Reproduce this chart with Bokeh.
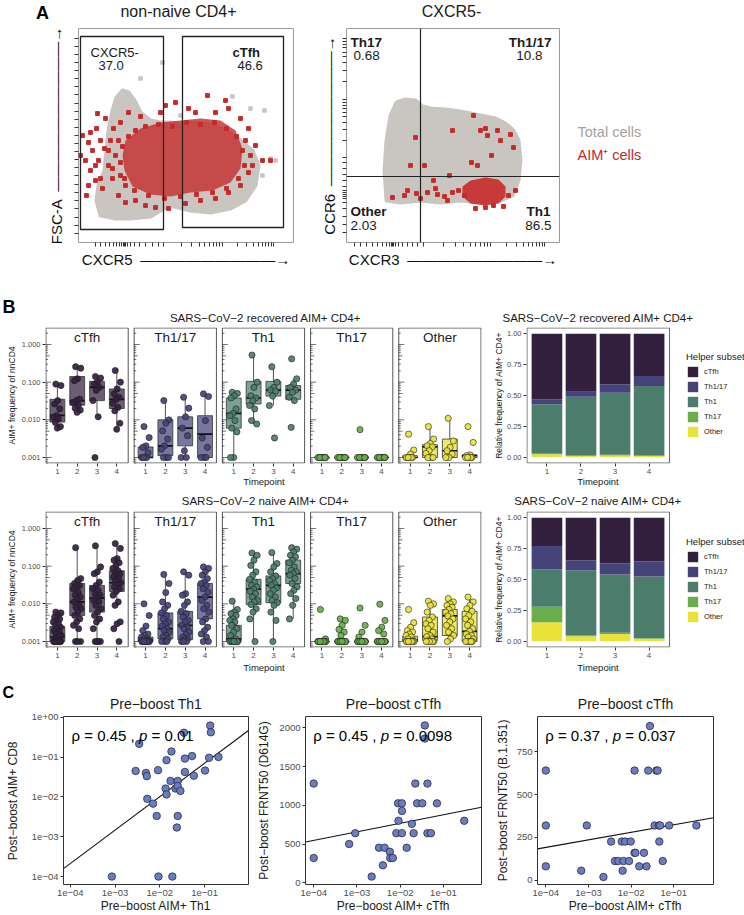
import numpy as np
from math import log10, pi
from bokeh.plotting import figure
from bokeh.models import (Range1d, FixedTicker, CustomJSTickFormatter, Label,
                          Legend, LegendItem, ColumnDataSource, Span)
from bokeh.layouts import column, row
from bokeh.embed import file_html
from bokeh.resources import INLINE
from bokeh.core.properties import value

FONT = "Liberation Sans"

# ---------------- Panel A : flow cytometry (arbitrary channel units) ----------------
a1_total_x = [22, 18, 20, 26, 28, 30, 34, 38, 44, 50, 56, 62, 72, 82, 92, 102, 117, 132, 147, 162, 174, 180, 177, 167, 152, 132, 112, 92, 82, 72, 52, 37]
a1_total_y = [27, 42, 57, 72, 92, 112, 132, 145, 152, 150, 142, 130, 122, 120, 120, 118, 120, 118, 112, 102, 92, 77, 57, 42, 34, 30, 32, 37, 32, 26, 24, 24]
a1_total_sparse_x = [84, 62, 172, 186, 192, 197, 184, 154, 102]
a1_total_sparse_y = [180, 164, 134, 132, 84, 82, 67, 146, 127]
a1_aim_core_x = [47, 62, 82, 102, 122, 142, 157, 164, 162, 152, 134, 112, 92, 72, 54, 46, 44]
a1_aim_core_y = [102, 114, 120, 122, 124, 122, 112, 94, 74, 60, 52, 50, 46, 48, 56, 72, 87]
a1_aim_x = [4, 10, 18, 19, 27, 14, 7, 12, 20, 26, 32, 37, 30, 17, 24, 34, 40, 47, 57, 67, 77, 90, 107, 122, 137,
            150, 162, 170, 172, 177, 184, 192, 170, 162, 150, 137, 129, 110, 97, 82, 62, 42, 50, 87, 117, 147, 167, 174, 2, 8,
            12, 22, 30, 17, 34, 42, 22, 40, 35, 47, 10,
            57, 67, 80, 94, 108, 122, 136, 148, 158, 164, 166, 160, 148, 134, 118, 102, 86, 70, 56, 46, 42, 44, 50]
a1_aim_y = [107, 100, 114, 129, 124, 92, 82, 72, 82, 94, 102, 87, 77, 62, 54, 64, 47, 40, 42, 37, 35, 34, 39, 42, 44,
            50, 57, 70, 87, 97, 82, 82, 114, 124, 134, 130, 147, 134, 140, 130, 126, 120, 130, 137, 130, 142, 102, 77, 87, 47,
            110, 102, 92, 77, 74, 67, 64, 102, 114, 57, 57,
            112, 116, 118, 116, 120, 118, 120, 114, 106, 92, 77, 64, 54, 50, 48, 46, 44, 47, 52, 64, 80, 96, 106]
a1_gate_left = [2, 104]
a1_gate_right = [85, 205]
a1_gate_bottom = [13, 15]
a1_gate_top = [206, 206]
a1_gate_names = ["CXCR5-", "cTfh"]
a1_gate_pct = ["37.0", "46.6"]

a2_total_x = [40, 38, 40, 44, 50, 59, 69, 76, 84, 99, 114, 134, 149, 159, 167, 172, 174, 172, 166, 154, 134, 114, 94, 74, 54]
a2_total_y = [42, 72, 102, 127, 140, 143, 142, 136, 134, 133, 131, 127, 124, 119, 112, 102, 82, 62, 47, 42, 40, 42, 40, 42, 40]
a2_aim_core_x = [116, 124, 139, 152, 159, 159, 152, 139, 124, 116]
a2_aim_core_y = [56, 62, 65, 63, 56, 46, 39, 37, 39, 46]
a2_aim_x = [69, 127, 106, 134, 139, 141, 151, 154, 164, 167, 145, 125, 131, 64, 78, 103, 87, 89, 61, 70, 81, 91, 98, 106,
            112, 118, 46, 58, 74, 101, 162, 169, 129, 139, 147, 157]
a2_aim_y = [105, 127, 112, 112, 114, 107, 112, 102, 108, 95, 87, 80, 77, 77, 77, 67, 62, 54, 52, 49, 50, 48, 46, 50,
            52, 47, 45, 47, 44, 42, 47, 52, 34, 35, 37, 36]
a2_quad_x = 74
a2_quad_y = 66
a2_quad_names = ["Th17", "Th1/17", "Other", "Th1"]
a2_quad_pct = ["0.68", "10.8", "2.03", "86.5"]

# ---------------- Panel B : AIM+ frequency (log10 of fraction of nnCD4) ----------------
timepoints = [1, 2, 3, 4]
subsets = ["cTfh", "Th1/17", "Th1", "Th17", "Other"]
subset_colors = ["#33203f", "#45437a", "#4c7d6c", "#6aae4b", "#e8e23a"]

rec_cTfh = [[-1.05, -1.09, -1.49, -1.58, -1.71, -1.89, -1.93, -1.98, -2.07, -2.18, -2.22],
            [-0.59, -0.63, -0.91, -0.96, -1.45, -1.49, -1.54, -1.62, -1.69, -1.74, -1.80],
            [-0.85, -0.89, -1.0, -1.05, -1.14, -1.22, -1.49, -1.92, -3.0],
            [-0.69, -1.0, -1.18, -1.31, -1.40, -1.46, -1.56, -1.67, -1.76, -2.09, -2.25]]
rec_Th1_17 = [[-2.18, -2.47, -2.69, -2.73, -2.87, -3, -3, -3, -3],
              [-1.49, -2.0, -2.09, -2.29, -2.51, -2.69, -2.78, -3, -3, -3],
              [-1.40, -1.69, -1.92, -2.22, -2.42, -2.82, -3, -3],
              [-1.31, -1.38, -2.02, -2.48, -2.73, -3, -3, -3]]
rec_Th1 = [[-1.27, -1.30, -1.36, -1.42, -1.71, -1.83, -1.89, -2.02, -2.22, -2.32, -3, -3],
           [-0.28, -1.0, -1.14, -1.36, -1.42, -1.49, -1.62, -1.71, -2.02, -2.11],
           [-0.59, -1.0, -1.14, -1.21, -1.24, -1.37, -1.62, -2.48],
           [-0.38, -0.91, -1.05, -1.14, -1.21, -1.27, -1.40, -1.49, -2.20]]
rec_Th17 = [[-3] * 10, [-3] * 10, [-2.26] + [-3] * 9, [-3] * 10]
rec_Other = [[-2.38, -2.80, -2.91, -3, -3, -3, -3, -3, -3],
             [-2.18, -2.51, -2.63, -2.69, -2.72, -2.82, -2.89, -3, -3, -3],
             [-1.96, -2.56, -2.73, -2.82, -2.91, -3, -3],
             [-2.18, -2.60, -2.93, -2.95, -3, -3, -3, -3, -3]]
# box stats per timepoint: [q1, median, q3, lower whisker, upper whisker] (log10)
rec_box_cTfh = [[-2.06, -1.88, -1.455, -2.22, -1.05], [-1.61, -1.49, -0.85, -1.80, -0.59],
                [-1.49, -1.14, -0.98, -1.92, -0.85], [-1.70, -1.455, -1.18, -2.25, -0.69]]
rec_box_Th1_17 = [[-3, -3, -2.72, -3, -2.72], [-2.95, -2.69, -2.0, -3, -1.49],
                  [-2.69, -2.22, -1.92, -3, -1.40], [-3, -2.38, -1.89, -3, -1.31]]
rec_box_Th1 = [[-2.22, -1.83, -1.42, -3, -1.27], [-1.58, -1.42, -0.98, -2.11, -0.28],
               [-1.37, -1.21, -0.98, -1.62, -0.59], [-1.455, -1.21, -1.09, -1.53, -0.91]]
rec_box_Th17 = [[-3, -3, -3, -3, -3]] * 4
rec_box_Other = [[-3, -3, -2.95, -3, -2.95], [-3, -2.72, -2.66, -3, -2.18],
                 [-3, -2.82, -2.51, -3, -1.96], [-3, -2.95, -2.93, -3, -2.93]]

nai_cTfh = [[-2.22, -2.24, -2.29, -2.35, -2.40, -2.44, -2.48, -2.53, -2.57, -2.62, -2.66, -2.71, -2.75, -2.80, -2.84, -2.88, -2.93, -2.97] + [-3] * 8,
            [-0.51, -1.33, -1.38, -1.46, -1.51, -1.55, -1.60, -1.69, -1.77, -1.82, -1.86, -1.95, -2.04, -2.09, -2.13, -2.22, -2.31, -2.40, -2.48, -2.57, -2.66, -3, -3, -3],
            [-0.46, -1.02, -1.15, -1.20, -1.42, -1.51, -1.60, -1.64, -1.73, -1.77, -1.85, -1.91, -1.95, -2.04, -2.13, -2.22, -2.31, -2.40, -2.48, -2.66, -3, -3, -3, -3],
            [-0.40, -0.53, -0.80, -0.84, -0.91, -0.98, -1.06, -1.12, -1.15, -1.20, -1.24, -1.29, -1.33, -1.38, -1.44, -1.49, -1.55, -1.60, -1.67, -1.77, -1.95, -2.04, -2.48, -2.53, -2.66, -3]]
nai_Th1_17 = [[-2.0, -2.31, -2.59, -2.71, -2.80, -2.84, -2.88, -2.93, -2.95, -2.97] + [-3] * 12,
              [-1.22, -1.46, -1.70, -1.95, -2.04, -2.13, -2.24, -2.31, -2.40, -2.48, -2.53, -2.59, -2.66, -2.71, -2.75, -2.84, -2.88, -2.93, -3, -3, -3],
              [-1.15, -1.24, -1.73, -1.77, -1.95, -2.04, -2.20, -2.26, -2.35, -2.44, -2.48, -2.57, -2.62, -2.66, -2.75, -2.82, -2.88, -2.93, -2.95, -3, -3, -3],
              [-1.02, -1.06, -1.15, -1.24, -1.33, -1.42, -1.46, -1.51, -1.60, -1.69, -1.82, -1.91, -2.04, -2.13, -2.22, -2.40, -2.48, -2.62, -2.71, -2.80, -2.88, -3, -3]]
nai_Th1 = [[-1.93, -2.15, -2.22, -2.26, -2.31, -2.40, -2.44, -2.48, -2.57, -2.66, -2.75, -2.84, -2.93, -2.97] + [-3] * 10,
           [-0.65, -0.71, -0.84, -0.98, -1.15, -1.24, -1.35, -1.42, -1.51, -1.55, -1.61, -1.67, -1.73, -1.82, -1.91, -1.95, -2.02, -2.13, -2.22, -2.40, -3],
           [-0.64, -0.93, -1.02, -1.15, -1.26, -1.33, -1.38, -1.46, -1.51, -1.58, -1.64, -1.73, -1.82, -1.91, -1.97, -2.04, -2.22, -2.44, -3],
           [-0.51, -0.55, -0.62, -0.71, -0.75, -0.84, -0.91, -1.02, -1.11, -1.15, -1.20, -1.24, -1.33, -1.46, -1.55, -1.64, -1.73, -1.86, -2.04, -2.40]]
nai_Th17 = [[-2.15, -2.93] + [-3] * 20,
            [-2.40, -2.44, -2.57, -2.68, -2.75, -2.84] + [-3] * 18,
            [-2.11, -2.57, -2.75, -2.88] + [-3] * 20,
            [-2.01, -2.44, -2.62, -2.71, -2.80] + [-3] * 19]
nai_Other = [[-2.15, -2.50, -2.62, -2.71, -2.75, -2.80, -2.84, -2.88, -2.93, -2.97] + [-3] * 12,
             [-1.93, -2.0, -2.04, -2.22, -2.35, -2.44, -2.53, -2.57, -2.66, -2.75, -2.84, -2.87, -2.93, -2.97] + [-3] * 6,
             [-1.86, -1.95, -2.0, -2.04, -2.09, -2.15, -2.22, -2.26, -2.32, -2.40, -2.48, -2.57, -2.66, -2.75, -2.84, -2.93, -3],
             [-1.82, -1.95, -2.04, -2.13, -2.20, -2.31, -2.40, -2.48, -2.57, -2.66, -2.73, -2.80, -2.84, -2.88, -2.93] + [-3] * 6]
nai_box_cTfh = [[-3, -2.88, -2.60, -3, -2.22], [-2.31, -1.95, -1.46, -3, -0.51],
                [-2.22, -1.85, -1.51, -3, -0.46], [-1.67, -1.44, -1.12, -2.04, -0.40]]
nai_box_Th1_17 = [[-3, -2.97, -2.88, -3, -2.80], [-2.93, -2.66, -2.24, -3, -1.22],
                  [-2.95, -2.57, -2.20, -3, -1.15], [-2.40, -1.82, -1.46, -3, -1.02]]
nai_box_Th1 = [[-3, -2.93, -2.57, -3, -1.93], [-2.02, -1.61, -1.35, -3, -0.65],
               [-1.97, -1.51, -1.26, -3, -0.64], [-1.46, -1.20, -0.84, -2.40, -0.51]]
nai_box_Th17 = [[-3, -3, -3, -3, -3]] * 4
nai_box_Other = [[-3, -2.97, -2.86, -3, -2.80], [-2.97, -2.87, -2.35, -3, -1.93],
                 [-2.84, -2.32, -2.15, -3, -1.86], [-3, -2.73, -2.20, -3, -1.82]]

# relative frequency of AIM+ CD4+ per timepoint
rec_frac_cTfh = [0.53, 0.47, 0.41, 0.342]
rec_frac_Th1_17 = [0.04, 0.041, 0.068, 0.082]
rec_frac_Th1 = [0.395, 0.474, 0.502, 0.561]
rec_frac_Th17 = [0.01, 0.005, 0.005, 0.005]
rec_frac_Other = [0.025, 0.01, 0.015, 0.01]
nai_frac_cTfh = [0.23, 0.345, 0.37, 0.355]
nai_frac_Th1_17 = [0.19, 0.08, 0.09, 0.12]
nai_frac_Th1 = [0.30, 0.525, 0.47, 0.50]
nai_frac_Th17 = [0.125, 0.01, 0.01, 0.005]
nai_frac_Other = [0.155, 0.04, 0.06, 0.02]

# ---------------- Panel C : correlations ----------------
c1_pre_th1_log = [-3.07, -2.03, -1.72, -0.875, -0.86, -2.46, -1.46, -1.74, -1.85, -2.54, -2.31, -2.04, -1.44, -1.28, -0.69, -0.9,
                  -0.99, -1.44, -1.24, -2.29, -1.76, -1.6, -1.87, -1.65, -1.6, -1.54, -1.85, -2.28, -2.15, -2.07, -1.6, -1.62]
c1_post_cd8_log = [-4.0, -4.0, -4.0, -0.21, -0.38, -0.67, -0.39, -0.86, -1.08, -1.35, -1.4, -1.33, -1.04, -0.975, -1.0, -1.02,
                   -1.34, -1.375, -1.47, -1.48, -1.6, -1.6, -1.79, -1.79, -1.73, -1.85, -1.94, -2.05, -2.17, -2.48, -2.48, -2.77]
c1_fit = [-0.316, 0.84]   # log10(y) = a + b*log10(x)
c2_pre_ctfh_log = [-4.0, -4.0, -3.18, -3.04, -2.49, -2.36, -2.66, -2.40, -2.24, -2.23, -2.17, -2.09, -2.04, -2.05, -1.96,
                   -1.96, -1.96, -1.85, -1.73, -1.69, -1.65, -1.61, -1.49, -1.43, -1.43, -1.37, -1.37, -1.29, -1.15, -0.52]
c2_frnt50_d614g = [1280, 320, 500, 640, 452, 452, 80, 226, 400, 320, 320, 640, 800, 1025, 1025,
                   927, 640, 452, 760, 640, 1280, 1025, 1025, 2030, 1860, 1280, 640, 640, 1025, 800]
c2_fit = [987, 110]       # y = a + b*log10(x)
c3_pre_ctfh_log = [-4.0, -4.0, -4.0, -3.17, -3.04, -2.65, -2.47, -2.38, -2.30, -2.22, -2.20, -2.18, -2.14, -2.05, -2.01, -1.92,
                   -1.92, -1.90, -1.81, -1.70, -1.64, -1.60, -1.56, -1.45, -1.41, -1.38, -1.35, -1.32, -1.34, -1.26, -1.11, -0.47]
c3_frnt50_b1351 = [641, 320, 81, 56, 320, 19, 226, 112, 112, 226, 56, 112, 226, 112, 226, 641,
                   160, 160, 81, 160, 81, 641, 901, 320, 641, 641, 320, 320, 226, 112, 320, 320]
c3_fit = [368, 44]


# ---------------- helpers ----------------
class Geo:
    def __init__(self, box, frame, xr, yr, xlog=False, ylog=False):
        self.box, self.frame = box, frame
        self.xr, self.yr, self.xlog, self.ylog = xr, yr, xlog, ylog

    def x(self, px):
        f0, f1 = self.frame[0], self.frame[2]
        t = (px - f0) / (f1 - f0)
        a, b = self.xr
        if self.xlog:
            return 10 ** (log10(a) + t * (log10(b) - log10(a)))
        return a + t * (b - a)

    def y(self, py):
        f0, f1 = self.frame[1], self.frame[3]
        t = (f1 - py) / (f1 - f0)
        a, b = self.yr
        if self.ylog:
            return 10 ** (log10(a) + t * (log10(b) - log10(a)))
        return a + t * (b - a)

    def fig(self):
        bx0, by0, bx1, by1 = self.box
        fx0, fy0, fx1, fy1 = self.frame
        p = figure(width=bx1 - bx0, height=by1 - by0,
                   x_range=Range1d(*self.xr), y_range=Range1d(*self.yr),
                   x_axis_type="log" if self.xlog else "linear",
                   y_axis_type="log" if self.ylog else "linear",
                   min_border_left=fx0 - bx0, min_border_right=bx1 - fx1,
                   min_border_top=fy0 - by0, min_border_bottom=by1 - fy1,
                   output_backend="svg", toolbar_location=None)
        p.xgrid.visible = False
        p.ygrid.visible = False
        p.background_fill_color = "white"
        p.border_fill_color = "white"
        return p

    def label(self, p, px, py, text, size, color="#1a1a1a", style="normal", align="center",
              baseline="middle", angle=0, xo=0, panel="center"):
        p.add_layout(Label(x=self.x(px), y=self.y(py), text=text, text_font=FONT,
                           text_font_size=f"{size}px", text_color=color, text_font_style=style,
                           text_align=align, text_baseline=baseline, angle=angle, x_offset=xo), panel)


def log_minor(a, b):
    return [a + log10(k) * (b - a) for k in range(2, 10)]


def lin_minor(a, b, n=4):
    return [a + (b - a) * i / (n + 1) for i in range(1, n + 1)]


def style_axis(ax, size, color="#4d4d4d"):
    ax.major_label_text_font = FONT
    ax.major_label_text_font_size = f"{size}px"
    ax.major_label_text_color = color
    ax.axis_line_color = None
    ax.major_tick_line_color = "#333333"
    ax.major_tick_out = 3
    ax.major_tick_in = 0
    ax.minor_tick_line_color = None
    ax.major_label_standoff = 2
    ax.axis_label_text_font = FONT
    ax.axis_label_text_font_style = "normal"
    ax.axis_label_text_color = "#1a1a1a"


def flow_axis(ax, ticks, label, standoff):
    # tick marks only (no tick labels), as on a cytometry plot
    ax.ticker = FixedTicker(ticks=[], minor_ticks=ticks)
    ax.major_label_standoff = 0
    ax.axis_line_color = None
    ax.major_tick_out = 5
    ax.major_tick_in = 0
    ax.minor_tick_out = 4
    ax.minor_tick_in = 0
    ax.minor_tick_line_color = "#333333"
    ax.axis_label = label
    ax.axis_label_text_font = FONT
    ax.axis_label_text_font_size = "15px"
    ax.axis_label_text_font_style = "normal"
    ax.axis_label_text_color = "#111111"
    ax.axis_label_standoff = standoff


def arrow_text(name, n):
    return name + "\u2002" + "\u2014" * n + "\u2192"


GREY = "#c9c6c1"
RED = "#c62a2a"

# ---------------- Panel A left ----------------
gA1 = Geo((0, 0, 310, 270), (78, 28, 293, 242), (0, 215), (0, 214))
pA1 = gA1.fig()
pA1.outline_line_color = "#9a9a9a"
flow_axis(pA1.xaxis[0], [47, 85, 144, 195] + [17, 22, 27, 31, 35, 38, 41, 43, 45, 46, 49, 52, 56, 61, 67, 74, 80]
          + log_minor(85, 144) + log_minor(144, 195), arrow_text("CXCR5", 9), 4)
flow_axis(pA1.yaxis[0], [42, 83, 123, 164, 204] + [9, 17, 25, 34] + lin_minor(42, 83) + lin_minor(83, 123)
          + lin_minor(123, 164) + lin_minor(164, 204), arrow_text("FSC-A", 10), 10)
pA1.patch(a1_total_x, a1_total_y, fill_color=GREY, line_color=GREY, line_width=4, line_join="round")
pA1.scatter(a1_total_sparse_x, a1_total_sparse_y, marker="square", size=3.5, color=GREY)
pA1.patch(a1_aim_core_x, a1_aim_core_y, fill_color=RED, fill_alpha=0.8, line_color=None)
pA1.scatter(a1_aim_x, a1_aim_y, marker="square", size=3.8, color=RED)
pA1.quad(left=a1_gate_left, right=a1_gate_right, bottom=a1_gate_bottom, top=a1_gate_top,
         fill_color=None, line_color="#222222", line_width=1.3)
gA1.label(pA1, 90, 52, a1_gate_names[0], 13, align="left")
gA1.label(pA1, 98, 65, a1_gate_pct[0], 13, align="left")
gA1.label(pA1, 232, 52, a1_gate_names[1], 13, style="bold", align="left")
gA1.label(pA1, 237, 65, a1_gate_pct[1], 13, align="left")
gA1.label(pA1, 42, 12, "A", 18, color="black", style="bold", panel="left")
gA1.label(pA1, 178, 11, "non-naive CD4+", 16, panel="above")

# ---------------- Panel A right ----------------
gA2 = Geo((310, 0, 744, 270), (346, 28, 559, 242), (0, 213), (0, 214))
pA2 = gA2.fig()
pA2.outline_line_color = "#9a9a9a"
flow_axis(pA2.xaxis[0], [77, 144, 198] + [8, 14, 20, 26, 31, 36, 40, 43, 45, 46, 47, 49, 52, 56, 61, 66, 71]
          + log_minor(77, 144) + log_minor(144, 198), arrow_text("CXCR3", 9), 4)
flow_axis(pA2.yaxis[0], [85, 143, 204] + [10, 18, 26, 34, 40, 44, 46, 48, 50, 52, 56, 62, 68, 74, 80]
          + log_minor(85, 143) + log_minor(143, 204), arrow_text("CCR6", 9), 5)
pA2.patch(a2_total_x, a2_total_y, fill_color=GREY, line_color=GREY, line_width=4, line_join="round")
pA2.patch(a2_aim_core_x, a2_aim_core_y, fill_color=RED, fill_alpha=0.9, line_color=None)
pA2.scatter(a2_aim_x, a2_aim_y, marker="square", size=3.8, color=RED)
pA2.add_layout(Span(location=a2_quad_x, dimension="height", line_color="#222222", line_width=1.2))
pA2.add_layout(Span(location=a2_quad_y, dimension="width", line_color="#222222", line_width=1.2))
gA2.label(pA2, 350, 42, a2_quad_names[0], 13.5, style="bold", align="left")
gA2.label(pA2, 353, 55, a2_quad_pct[0], 13.5, align="left")
gA2.label(pA2, 551, 42, a2_quad_names[1], 13.5, style="bold", align="right")
gA2.label(pA2, 542, 55, a2_quad_pct[1], 13.5, align="right")
gA2.label(pA2, 350, 211, a2_quad_names[2], 13.5, style="bold", align="left")
gA2.label(pA2, 350, 225, a2_quad_pct[2], 13.5, align="left")
gA2.label(pA2, 550, 211, a2_quad_names[3], 13.5, style="bold", align="right")
gA2.label(pA2, 551, 225, a2_quad_pct[3], 13.5, align="right")
gA2.label(pA2, 451, 11, "CXCR5-", 16, panel="above")
gA2.label(pA2, 577, 131, "Total cells", 14.5, color="#a5a29d", align="left", panel="right")
gA2.label(pA2, 577, 154, "AIM\u207a cells", 14.5, color="#c1272d", align="left", panel="right")

# ---------------- Panel B ----------------
FACET_STEP = 4.452
B_YR = (10 ** -3.159, 10 ** 0.451)
B_XR = (0.4, 0.4 + 5 * 4.2 + 4 * 0.252)
PX_PER_DEC = 37.67


def facet_panel(g, pts_all, box_all, title, title_py, tp_py, tp_panel, letter_py=None):
    p = g.fig()
    p.outline_line_color = None
    ticks = []
    lo_log, hi_log = log10(B_YR[0]), log10(B_YR[1])
    for k, name in enumerate(subsets):
        off = k * FACET_STEP
        col = subset_colors[k]
        ticks += [off + t for t in timepoints]
        p.quad(left=[off + 0.4 + 0.025], right=[off + 4.6 - 0.025],
               bottom=[10 ** (lo_log + 0.013)], top=[10 ** (hi_log - 0.013)],
               fill_color=None, line_color="#555555", line_width=1)
        p.text(x=[off + 2.5], y=[10 ** (hi_log - 9.5 / PX_PER_DEC)], text=[name],
               text_font=value(FONT), text_font_size="13.5px", text_align="center",
               text_baseline="middle", text_color="#1a1a1a")
        ly, lx1 = [], []
        for d in range(-4, 1):
            for m in range(1, 10):
                v = m * 10 ** d
                if v < B_YR[0] or v > B_YR[1]:
                    continue
                ly.append(v)
                lx1.append(off + 0.4 + (0.30 if m == 1 else (0.21 if m == 5 else 0.13)))
        p.segment(x0=[off + 0.4] * len(ly), x1=lx1, y0=ly, y1=ly, line_color="#333333", line_width=0.7)
        for t, vals, bx in zip(timepoints, pts_all[k], box_all[k]):
            q1, med, q3, wlo, whi = [10 ** v for v in bx]
            xc = off + t
            p.segment(x0=[xc, xc], x1=[xc, xc], y0=[q3, wlo], y1=[whi, q1], line_color="#222222", line_width=0.8)
            p.quad(left=[xc - 0.375], right=[xc + 0.375], bottom=[q1], top=[q3],
                   fill_color=col, fill_alpha=0.72, line_color="#333333", line_width=0.8)
            p.segment(x0=[xc - 0.375], x1=[xc + 0.375], y0=[med], y1=[med], line_color="#111111", line_width=1.7)
        for t, vals in zip(timepoints, pts_all[k]):
            n = len(vals)
            jit = ((np.arange(n) * 0.618034 + 0.31) % 1.0 - 0.5) * 0.42
            p.scatter(x=off + t + jit, y=10 ** np.array(vals, dtype=float), size=6.2,
                      fill_color=col, fill_alpha=0.92, line_color="#1e1e1e", line_width=0.6)
    xa = p.xaxis[0]
    style_axis(xa, 8)
    xa.ticker = FixedTicker(ticks=ticks)
    xa.formatter = CustomJSTickFormatter(
        code="return String(Math.round(tick - 4.452*Math.floor((tick-0.4)/4.452)));")
    ya = p.yaxis[0]
    style_axis(ya, 7.5)
    ya.ticker = FixedTicker(ticks=[0.001, 0.01, 0.1, 1.0])
    ya.formatter = CustomJSTickFormatter(code="return tick.toFixed(3);")
    ya.axis_label = "AIM+ frequency of nnCD4"
    ya.axis_label_text_font_size = "8.5px"
    ya.axis_label_standoff = 2
    if letter_py is not None:
        g.label(p, 2, letter_py, "B", 18, color="black", style="bold", align="left", panel="above")
    g.label(p, 265, title_py, title, 11.5, panel="above")
    g.label(p, 263.5, tp_py, "Timepoint", 9.5, panel=tp_panel)
    return p


BAR_LEFT_PX, BAR_RIGHT_PX = 523, 668


def stack_panel(g, fracs, title, title_py, tp_py, tp_panel, leg_loc):
    p = g.fig()
    p.outline_line_color = None
    # visible plotting box (the frame also hosts the legend on its right)
    p.quad(left=[0.4 + 0.015], right=[4.6], bottom=[-0.05 + 0.004], top=[1.05 - 0.004],
           fill_color=None, line_color="#666666", line_width=1)
    src = ColumnDataSource(dict(t=timepoints, Other=fracs[4], Th17=fracs[3], Th1=fracs[2],
                                Th1_17=fracs[1], cTfh=fracs[0]))
    keys = ["Other", "Th17", "Th1", "Th1_17", "cTfh"]
    cols = [subset_colors[4], subset_colors[3], subset_colors[2], subset_colors[1], subset_colors[0]]
    rs = p.vbar_stack(keys, x="t", width=0.9, fill_color=cols, line_color=None, source=src)
    xa = p.xaxis[0]
    style_axis(xa, 8)
    xa.ticker = FixedTicker(ticks=timepoints)
    ya = p.yaxis[0]
    style_axis(ya, 7.5)
    ya.ticker = FixedTicker(ticks=[0, 0.25, 0.5, 0.75, 1.0])
    ya.formatter = CustomJSTickFormatter(code="return tick.toFixed(2);")
    ya.axis_label = "Relative frequency of AIM+ CD4+"
    ya.axis_label_text_font_size = "8.5px"
    ya.axis_label_standoff = 0
    items = [LegendItem(label=subsets[i], renderers=[rs[4 - i]]) for i in range(5)]
    leg = Legend(items=items, location=leg_loc, title="Helper subset",
                 title_text_font=FONT, title_text_font_size="9.5px", title_text_font_style="normal",
                 title_text_color="#1a1a1a", title_standoff=3,
                 label_text_font=FONT, label_text_font_size="7.5px", label_text_color="#1a1a1a",
                 glyph_width=13, glyph_height=13, label_height=13, label_standoff=5, spacing=2,
                 padding=0, margin=0, border_line_alpha=0, background_fill_alpha=0)
    p.add_layout(leg)
    g.label(p, 595.5, title_py, title, 11.5, panel="above")
    g.label(p, 595.5, tp_py, "Timepoint", 9.5, panel=tp_panel)
    return p


rec_pts = [rec_cTfh, rec_Th1_17, rec_Th1, rec_Th17, rec_Other]
rec_box = [rec_box_cTfh, rec_box_Th1_17, rec_box_Th1, rec_box_Th17, rec_box_Other]
nai_pts = [nai_cTfh, nai_Th1_17, nai_Th1, nai_Th17, nai_Other]
nai_box = [nai_box_cTfh, nai_box_Th1_17, nai_box_Th1, nai_box_Th17, nai_box_Other]
rec_frac = [rec_frac_cTfh, rec_frac_Th1_17, rec_frac_Th1, rec_frac_Th17, rec_frac_Other]
nai_frac = [nai_frac_cTfh, nai_frac_Th1_17, nai_frac_Th1, nai_frac_Th17, nai_frac_Other]

S_XR = (0.4, 0.4 + 4.2 * (744 - BAR_LEFT_PX) / (BAR_RIGHT_PX - BAR_LEFT_PX))

gB1 = Geo((0, 270, 490, 488), (45, 327, 481, 463), B_XR, B_YR, ylog=True)
pB1 = facet_panel(gB1, rec_pts, rec_box, "SARS\u2212CoV\u22122 recovered AIM+ CD4+", 317, 481, "above", letter_py=306)
gB1s = Geo((490, 270, 744, 488), (523, 327, 744, 463), S_XR, (-0.05, 1.05))
pB1s = stack_panel(gB1s, rec_frac, "SARS\u2212CoV\u22122 recovered AIM+ CD4+", 317, 481, "above", (160, 25))

gB2 = Geo((0, 488, 490, 680), (45, 511, 481, 647), B_XR, B_YR, ylog=True)
pB2 = facet_panel(gB2, nai_pts, nai_box, "SARS\u2212CoV\u22122 naive AIM+ CD4+", 500, 667, "below")
gB2s = Geo((490, 488, 744, 680), (523, 511, 744, 647), S_XR, (-0.05, 1.05))
pB2s = stack_panel(gB2s, nai_frac, "SARS\u2212CoV\u22122 naive AIM+ CD4+", 500, 667, "below", (160, 24))

# ---------------- Panel C ----------------
LOGFMT = CustomJSTickFormatter(code="""
const e = Math.round(Math.log10(tick));
const s = e < 0 ? "\\u2212" : "+";
return "1e" + s + String(Math.abs(e)).padStart(2, "0");
""")


def corr_panel(g, xlog_vals, yvals, fit, title, xlab, ylab, ylab_standoff, rho, pv, yticks, letter=False):
    p = g.fig()
    p.outline_line_color = "#333333"
    p.outline_line_width = 1
    xs = 10 ** np.array(xlog_vals)
    ys = 10 ** np.array(yvals) if g.ylog else np.array(yvals, dtype=float)
    lx = np.array([log10(g.xr[0]), log10(g.xr[1])])
    ly = fit[0] + fit[1] * lx
    p.line(10 ** lx, 10 ** ly if g.ylog else ly, line_color="#111111", line_width=1.1)
    p.scatter(xs, ys, size=7.5, fill_color="#6b7cc0", line_color="#1e1e30", line_width=0.7)
    xa = p.xaxis[0]
    style_axis(xa, 9.5)
    xa.ticker = FixedTicker(ticks=[1e-4, 1e-3, 1e-2, 1e-1])
    xa.formatter = LOGFMT
    xa.axis_label = xlab
    xa.axis_label_text_font_size = "12px"
    xa.axis_label_standoff = 0
    ya = p.yaxis[0]
    style_axis(ya, 9.5)
    ya.ticker = FixedTicker(ticks=yticks)
    if g.ylog:
        ya.formatter = LOGFMT
    ya.axis_label = ylab
    ya.axis_label_text_font_size = "12px"
    ya.axis_label_standoff = ylab_standoff
    cx = (g.frame[0] + g.frame[2]) / 2
    g.label(p, cx, 703, title, 14, panel="above")
    tx = g.frame[0] + 8
    ty = g.frame[1] + 19
    fs = 15
    g.label(p, tx, ty, f"\u03c1 = {rho} ,", fs, color="black", align="left")
    g.label(p, tx, ty, "p", fs, color="black", style="italic", align="left", xo=fs * 4.5)
    g.label(p, tx, ty, f"= {pv}", fs, color="black", align="left", xo=fs * (4.5 + 0.556 + 0.278))
    if letter:
        g.label(p, 2, 692, "C", 16, color="black", style="bold", align="left", panel="above")
    return p


gC1 = Geo((0, 680, 254, 915), (63, 716, 248, 885), (10 ** -4.15, 10 ** -0.02), (10 ** -4.2, 10 ** 0.017), xlog=True, ylog=True)
pC1 = corr_panel(gC1, c1_pre_th1_log, c1_post_cd8_log, c1_fit, "Pre\u2212boost Th1", "Pre\u2212boost AIM+ Th1",
                 "Post\u2212boost AIM+ CD8", 9, "0.45", "0.01", [1e-4, 1e-3, 1e-2, 1e-1, 1.0], letter=True)
gC2 = Geo((254, 680, 492, 915), (299, 716, 481, 885), (10 ** -4.19, 10 ** -0.12), (-22, 2145), xlog=True)
pC2 = corr_panel(gC2, c2_pre_ctfh_log, c2_frnt50_d614g, c2_fit, "Pre\u2212boost cTfh", "Pre\u2212boost AIM+ cTfh",
                 "Post\u2212boost FRNT50 (D614G)", 5, "0.45", "0.0098", [0, 500, 1000, 1500, 2000])
gC3 = Geo((492, 680, 744, 915), (531, 716, 713, 885), (10 ** -4.195, 10 ** -0.07), (-25, 957), xlog=True)
pC3 = corr_panel(gC3, c3_pre_ctfh_log, c3_frnt50_b1351, c3_fit, "Pre\u2212boost cTfh", "Pre\u2212boost AIM+ cTfh",
                 "Post\u2212boost FRNT50 (B.1.351)", 4, "0.37", "0.037", [0, 250, 500, 750])

layout = column(row(pA1, pA2, spacing=0), row(pB1, pB1s, spacing=0), row(pB2, pB2s, spacing=0),
                row(pC1, pC2, pC3, spacing=0), spacing=0)
open("out.html", "w").write(file_html(layout, INLINE))
